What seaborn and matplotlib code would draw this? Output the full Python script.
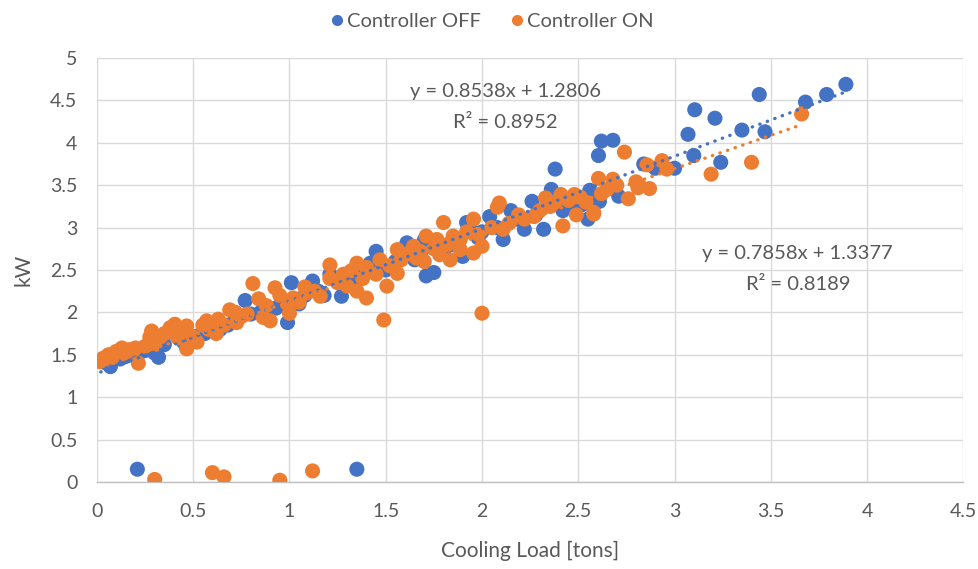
import numpy as np
import pandas as pd
import matplotlib
matplotlib.use("Agg")
import matplotlib.pyplot as plt
import seaborn as sns

# Controller OFF measurements: cooling load [tons] and power [kW]
off_load = [0.21, 1.35,
            0.02, 0.05, 0.07, 0.12, 0.15, 0.18, 0.22, 0.25, 0.30, 0.32, 0.35, 0.40,
            0.45, 0.50, 0.52, 0.56, 0.60, 0.64, 0.68, 0.72, 0.77, 0.80, 0.85, 0.88,
            0.93, 0.99, 1.01, 1.05, 1.08, 1.12, 1.15, 1.18, 1.21, 1.27, 1.30, 1.35,
            1.38, 1.42, 1.45, 1.48, 1.50, 1.55, 1.58, 1.61, 1.65, 1.68, 1.70, 1.71,
            1.75, 1.78, 1.80, 1.85, 1.88, 1.90, 1.92, 1.95, 1.98, 2.00, 2.04, 2.08,
            2.11, 2.15, 2.18, 2.22, 2.26, 2.28, 2.32, 2.36, 2.38, 2.42, 2.45, 2.48,
            2.52, 2.55, 2.56, 2.61, 2.605, 2.62, 2.68, 2.71, 2.84, 2.90, 3.00,
            3.07, 3.10, 3.105, 3.21, 3.24, 3.35, 3.44, 3.47, 3.68, 3.79, 3.89]
off_kw = [0.15, 0.15,
          1.42, 1.40, 1.36, 1.45, 1.48, 1.50, 1.52, 1.55, 1.52, 1.47, 1.62, 1.76,
          1.65, 1.70, 1.72, 1.75, 1.80, 1.80, 1.85, 1.95, 2.14, 1.98, 2.00, 2.05,
          2.05, 1.88, 2.35, 2.10, 2.20, 2.37, 2.25, 2.20, 2.45, 2.19, 2.35, 2.40,
          2.50, 2.58, 2.72, 2.55, 2.50, 2.60, 2.65, 2.82, 2.62, 2.70, 2.85, 2.43,
          2.47, 2.78, 2.70, 2.80, 2.85, 2.66, 3.06, 2.95, 2.88, 2.95, 3.13, 3.00,
          2.86, 3.20, 3.10, 2.98, 3.31, 3.15, 2.98, 3.45, 3.69, 3.20, 3.25, 3.35,
          3.27, 3.10, 3.44, 3.31, 3.85, 4.02, 4.03, 3.37, 3.75, 3.70, 3.70,
          4.10, 3.85, 4.39, 4.29, 3.77, 4.15, 4.57, 4.13, 4.48, 4.57, 4.69]

# Controller ON measurements
on_load = [0.30, 0.60, 0.66, 0.95, 1.12, 1.49, 2.00,
           0.016, 0.033, 0.06, 0.08, 0.10, 0.13, 0.14, 0.17, 0.20, 0.215, 0.25,
           0.275, 0.284, 0.30, 0.33, 0.35, 0.38, 0.405, 0.42, 0.45, 0.466, 0.466,
           0.50, 0.52, 0.55, 0.57, 0.58, 0.62, 0.63, 0.66, 0.69, 0.72, 0.726, 0.75,
           0.78, 0.81, 0.84, 0.864, 0.88, 0.90, 0.925, 0.95, 0.986, 1.00, 1.02,
           1.05, 1.08, 1.09, 1.13, 1.16, 1.21, 1.21, 1.25, 1.28, 1.30, 1.32, 1.35,
           1.35, 1.38, 1.40, 1.40, 1.45, 1.47, 1.506, 1.52, 1.56, 1.56, 1.58, 1.62,
           1.644, 1.66, 1.68, 1.70, 1.71, 1.75, 1.766, 1.78, 1.80, 1.82, 1.835,
           1.85, 1.887, 1.887, 1.92, 1.956, 1.956, 1.98, 2.00, 2.05, 2.08, 2.09,
           2.11, 2.14, 2.19, 2.22, 2.27, 2.30, 2.33, 2.355, 2.38, 2.41, 2.42, 2.45,
           2.48, 2.49, 2.51, 2.54, 2.58, 2.58, 2.605, 2.62, 2.65, 2.68, 2.70, 2.74,
           2.76, 2.80, 2.81, 2.82, 2.857, 2.87, 2.935, 2.96, 3.19, 3.40, 3.66]
on_kw = [0.03, 0.11, 0.06, 0.02, 0.13, 1.91, 1.99,
         1.42, 1.46, 1.50, 1.47, 1.54, 1.58, 1.52, 1.56, 1.58, 1.40, 1.60,
         1.71, 1.78, 1.62, 1.71, 1.75, 1.82, 1.86, 1.70, 1.78, 1.84, 1.57,
         1.71, 1.65, 1.85, 1.90, 1.80, 1.75, 1.92, 1.85, 2.03, 2.00, 1.88, 1.95,
         1.98, 2.34, 2.16, 1.94, 2.08, 1.90, 2.29, 2.20, 2.11, 1.99, 2.17,
         2.12, 2.30, 2.23, 2.25, 2.19, 2.40, 2.56, 2.35, 2.45, 2.31, 2.49, 2.58,
         2.25, 2.40, 2.17, 2.53, 2.45, 2.62, 2.31, 2.55, 2.74, 2.46, 2.62, 2.70,
         2.78, 2.64, 2.72, 2.60, 2.90, 2.75, 2.86, 2.68, 3.06, 2.80, 2.62,
         2.90, 2.74, 2.86, 2.95, 3.10, 2.70, 2.92, 2.78, 3.00, 3.24, 3.29,
         2.98, 3.05, 3.15, 3.10, 3.13, 3.20, 3.35, 3.25, 3.30, 3.39, 3.02, 3.32,
         3.39, 3.15, 3.36, 3.30, 3.16, 3.18, 3.58, 3.40, 3.45, 3.57, 3.50, 3.89,
         3.34, 3.54, 3.47, 3.49, 3.74, 3.46, 3.79, 3.69, 3.63, 3.77, 4.34]

series_names = ["Controller OFF", "Controller ON"]
# Linear trendline coefficients (slope, intercept, R²)
fit_off = (0.8538, 1.2806, 0.8952)
fit_on = (0.7858, 1.3377, 0.8189)

x_ticks = [0, 0.5, 1, 1.5, 2, 2.5, 3, 3.5, 4, 4.5]
y_ticks = [0, 0.5, 1, 1.5, 2, 2.5, 3, 3.5, 4, 4.5, 5]

colors = {"Controller OFF": "#4472C4", "Controller ON": "#ED7D31"}
text_color = "#595959"

df = pd.DataFrame({
    "load": off_load + on_load,
    "kw": off_kw + on_kw,
    "series": [series_names[0]] * len(off_load) + [series_names[1]] * len(on_load),
})

sns.set_theme(style="white")
plt.rcParams["font.family"] = ["Lato", "DejaVu Sans"]

fig = plt.figure(figsize=(9.79, 5.69), dpi=100)
ax = fig.add_axes([0.099, 0.153, 0.885, 0.745])

sns.scatterplot(data=df, x="load", y="kw", hue="series", palette=colors,
                s=118, linewidth=0, alpha=1.0, ax=ax, zorder=3, legend=False)

# Dotted linear trendlines over each series' range
for name, fit, xs in [(series_names[0], fit_off, off_load),
                      (series_names[1], fit_on, on_load)]:
    xx = np.array([min(xs), max(xs)])
    ax.plot(xx, fit[0] * xx + fit[1], linestyle=(0, (0.1, 2.3)),
            color=colors[name], linewidth=2.4, dash_capstyle="round", zorder=4)

eq_size = 14.5
ax.text(2.12, 4.60, f"y = {fit_off[0]:.4f}x + {fit_off[1]:.4f}", ha="center",
        va="center", fontsize=eq_size, color=text_color, zorder=5)
ax.text(2.12, 4.24, f"R² = {fit_off[2]:.4f}", ha="center", va="center",
        fontsize=eq_size, color=text_color, zorder=5)
ax.text(3.64, 2.70, f"y = {fit_on[0]:.4f}x + {fit_on[1]:.4f}", ha="center",
        va="center", fontsize=eq_size, color=text_color, zorder=5)
ax.text(3.64, 2.33, f"R² = {fit_on[2]:.4f}", ha="center", va="center",
        fontsize=eq_size, color=text_color, zorder=5)

ax.set_xlim(0, 4.5)
ax.set_ylim(0, 5)
ax.set_xticks(x_ticks)
ax.set_yticks(y_ticks)
ax.set_xticklabels([f"{t:g}" for t in x_ticks])
ax.set_yticklabels([f"{t:g}" for t in y_ticks])
ax.grid(True, color="#D9D9D9", linewidth=1.0, zorder=0)
ax.set_axisbelow(True)
for side in ["top", "right", "left"]:
    ax.spines[side].set_visible(False)
ax.spines["bottom"].set_color("#BFBFBF")
ax.spines["bottom"].set_linewidth(1.0)
ax.tick_params(axis="x", length=0, labelsize=14, labelcolor=text_color, pad=15)
ax.tick_params(axis="y", length=0, labelsize=14, labelcolor=text_color, pad=14)
ax.set_xlabel("Cooling Load [tons]", fontsize=15, color=text_color, labelpad=15)
ax.set_ylabel("kW", fontsize=15, color=text_color, labelpad=12)

handles = [plt.Line2D([], [], marker="o", linestyle="", markersize=8,
                      markerfacecolor=colors[n], markeredgewidth=0) for n in series_names]
fig.legend(handles, series_names, loc="center", bbox_to_anchor=(0.5, 0.963), ncol=2,
           frameon=False, fontsize=14.5, labelcolor=text_color, handletextpad=-0.1,
           columnspacing=1.2, handlelength=1.2)

fig.savefig("out.png", dpi=100, facecolor="white")
